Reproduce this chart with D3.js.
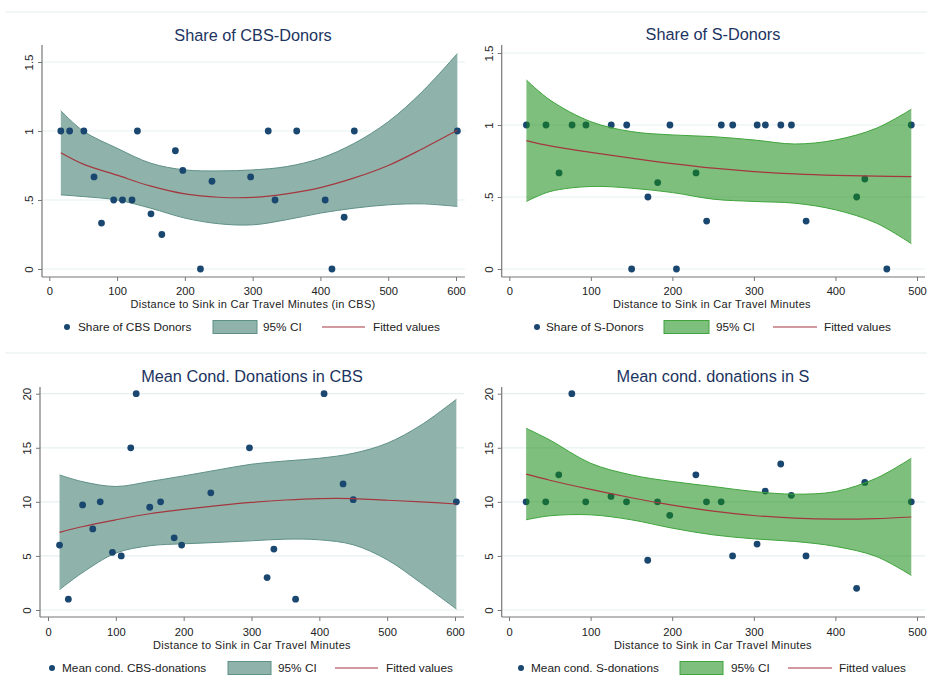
<!DOCTYPE html>
<html>
<head>
<meta charset="utf-8">
<script src="https://cdn.jsdelivr.net/npm/d3@7/dist/d3.min.js"></script>
<style>
  html, body { margin: 0; padding: 0; background: #fff; }
  svg { display: block; font-family: "Liberation Sans", Arial, sans-serif; }
</style>
</head>
<body>
<svg id="chart" width="927" height="684"></svg>
<script>
// ---------------- DATA ----------------
// CBS observations (distance in car travel minutes)
const cbsDistance = [17, 30, 51, 66, 77, 95, 108, 122, 130, 150, 166, 186, 197, 223, 240, 297, 323, 333, 365, 407, 417, 435, 450, 602];
const cbsShare    = [1, 1, 1, 0.667, 0.333, 0.5, 0.5, 0.5, 1, 0.4, 0.25, 0.857, 0.714, 0, 0.636, 0.667, 1, 0.5, 1, 0.5, 0, 0.375, 1, 1];
const cbsCondDon  = [6, 1, 9.72, 7.5, 10, 5.33, 5, 15, 20, 9.5, 10, 6.67, 6, null, 10.83, 15, 3, 5.63, 1, 20, null, 11.66, 10.2, 10];

// S observations
const sDistance = [21, 45, 61, 77, 94, 125, 144, 150, 170, 182, 197, 205, 229, 242, 260, 274, 304, 314, 333, 346, 364, 426, 436, 463, 493];
const sShare    = [1, 1, 0.667, 1, 1, 1, 1, 0, 0.5, 0.6, 1, 0, 0.667, 0.333, 1, 1, 1, 1, 1, 1, 0.333, 0.5, 0.625, 0, 1];
const sCondDon  = [10, 10, 12.5, 20, 10, 10.5, 10, null, 4.6, 10, 8.75, null, 12.5, 10, 10, 5, 6.1, 11, 13.5, 10.6, 5, 2, 11.8, null, 10];

// Fitted values and 95% CI
const cbsFitX        = [17, 50, 100, 150, 200, 250, 300, 350, 400, 450, 500, 550, 602];
const cbsShareFit    = [0.842, 0.76, 0.68, 0.60, 0.544, 0.52, 0.519, 0.545, 0.59, 0.66, 0.75, 0.87, 1.005];
const cbsShareHi     = [1.147, 1.0, 0.875, 0.766, 0.718, 0.711, 0.718, 0.742, 0.802, 0.911, 1.067, 1.284, 1.561];
const cbsShareLo     = [0.537, 0.525, 0.50, 0.44, 0.369, 0.328, 0.320, 0.357, 0.405, 0.441, 0.465, 0.472, 0.453];
const cbsDonFit      = [7.18, 7.7, 8.34, 8.9, 9.3, 9.65, 9.95, 10.17, 10.3, 10.3, 10.15, 10.0, 9.8];
const cbsDonHi       = [12.49, 11.88, 11.42, 11.88, 12.4, 12.95, 13.48, 13.78, 14.03, 14.49, 15.42, 17.1, 19.48];
const cbsDonLo       = [1.88, 3.42, 5.26, 5.94, 6.12, 6.25, 6.4, 6.55, 6.49, 6.03, 4.65, 2.49, 0.09];

const sFitX          = [21, 50, 100, 150, 200, 250, 300, 350, 400, 450, 493];
const sShareFit      = [0.892, 0.855, 0.81, 0.77, 0.732, 0.70, 0.676, 0.66, 0.65, 0.645, 0.641];
const sShareHi       = [1.312, 1.173, 1.023, 0.954, 0.931, 0.919, 0.896, 0.868, 0.896, 0.977, 1.109];
const sShareLo       = [0.469, 0.538, 0.573, 0.561, 0.531, 0.485, 0.469, 0.457, 0.411, 0.319, 0.176];
const sDonFit        = [12.56, 12.0, 11.15, 10.38, 9.7, 9.15, 8.74, 8.5, 8.4, 8.45, 8.6];
const sDonHi         = [16.8, 15.72, 13.57, 12.49, 11.88, 11.42, 10.95, 10.71, 10.95, 12.18, 14.03];
const sDonLo         = [8.34, 8.71, 8.8, 8.34, 7.57, 6.95, 6.58, 6.34, 5.88, 4.95, 3.2];

// Axis ticks
const xTicksCBS   = [0, 100, 200, 300, 400, 500, 600];
const xTicksS     = [0, 100, 200, 300, 400, 500];
const yTicksShare = [0, 0.5, 1, 1.5];
const yTickLabelsShare = ["0", ".5", "1", "1.5"];
const yTicksDon   = [0, 5, 10, 15, 20];
const yTickLabelsDon = ["0", "5", "10", "15", "20"];

// Texts
const panelTitles = ["Share of CBS-Donors", "Share of S-Donors", "Mean Cond. Donations in CBS", "Mean cond. donations in S"];
const xAxisTitles = ["Distance to Sink in Car Travel Minutes (in CBS)", "Distance to Sink in Car Travel Minutes",
                     "Distance to Sink in Car Travel Minutes", "Distance to Sink in Car Travel Minutes"];
const legendPointLabels = ["Share of CBS Donors", "Share of S-Donors", "Mean cond. CBS-donations", "Mean cond. S-donations"];
const legendCILabel = "95% CI";
const legendFitLabel = "Fitted values";

// ---------------- DRAWING ----------------
const svg = d3.select("#chart");
const NAVY = "#1a476f", MAROON = "#a5373f", TITLE = "#1c3461", TXT = "#222", AXIS = "#777", GRID = "#e6eff0";

// faint region borders
[12, 353].forEach(yy => svg.append("line").attr("x1", 5).attr("x2", 927).attr("y1", yy).attr("y2", yy)
  .attr("stroke", "#ecf3f3").attr("stroke-width", 1.5));

const panels = [
  { xDom: [0, 600], xRange: [49.3, 456], yDom: [0, 1.5], yRange: [269, 62], axX: 42, axTop: 45, axBot: 277, axRight: 465,
    xTicks: xTicksCBS, yTicks: yTicksShare, yLabels: yTickLabelsShare,
    px: cbsDistance, py: cbsShare, fx: cbsFitX, fy: cbsShareFit, hi: cbsShareHi, lo: cbsShareLo,
    bandFill: "#8fb3aa", bandOpacity: 1, bandStroke: "#5f9088", bandOver: false,
    title: panelTitles[0], titleX: 253, titleY: 35, xTitle: xAxisTitles[0], xTitleX: 253, tickLabY: 291, xTitleY: 304, legY: 327,
    leg: { dot: 67, txt: 78, sw0: 213, sw1: 257, ci: 263, l0: 322, l1: 365, fit: 373 } },
  { xDom: [0, 500], xRange: [509.3, 917], yDom: [0, 1.5], yRange: [269, 53], axX: 501.7, axTop: 45, axBot: 277, axRight: 925,
    xTicks: xTicksS, yTicks: yTicksShare, yLabels: yTickLabelsShare,
    px: sDistance, py: sShare, fx: sFitX, fy: sShareFit, hi: sShareHi, lo: sShareLo,
    bandFill: "#168a12", bandOpacity: 0.55, bandStroke: "#3fa43c", bandOver: true,
    title: panelTitles[1], titleX: 713, titleY: 34, xTitle: xAxisTitles[1], xTitleX: 712, tickLabY: 290.5, xTitleY: 303.5, legY: 327,
    leg: { dot: 537, txt: 546, sw0: 664, sw1: 709, ci: 716, l0: 773, l1: 817, fit: 824 } },
  { xDom: [0, 600], xRange: [48, 455], yDom: [0, 20], yRange: [610, 393.7], axX: 40, axTop: 387, axBot: 617, axRight: 464,
    xTicks: xTicksCBS, yTicks: yTicksDon, yLabels: yTickLabelsDon,
    px: cbsDistance, py: cbsCondDon, fx: cbsFitX, fy: cbsDonFit, hi: cbsDonHi, lo: cbsDonLo,
    bandFill: "#8fb3aa", bandOpacity: 1, bandStroke: "#5f9088", bandOver: false,
    title: panelTitles[2], titleX: 252, titleY: 376, xTitle: xAxisTitles[2], xTitleX: 252, tickLabY: 632, xTitleY: 645, legY: 668,
    leg: { dot: 52, txt: 62, sw0: 228, sw1: 271, ci: 278, l0: 335, l1: 378, fit: 386 } },
  { xDom: [0, 500], xRange: [509, 917], yDom: [0, 20], yRange: [610, 393.7], axX: 501.7, axTop: 387, axBot: 617, axRight: 925,
    xTicks: xTicksS, yTicks: yTicksDon, yLabels: yTickLabelsDon,
    px: sDistance, py: sCondDon, fx: sFitX, fy: sDonFit, hi: sDonHi, lo: sDonLo,
    bandFill: "#168a12", bandOpacity: 0.55, bandStroke: "#3fa43c", bandOver: true,
    title: panelTitles[3], titleX: 713, titleY: 376, xTitle: xAxisTitles[3], xTitleX: 713, tickLabY: 632, xTitleY: 645, legY: 668,
    leg: { dot: 521, txt: 531, sw0: 680, sw1: 723, ci: 731, l0: 788, l1: 832, fit: 839 } }
];

panels.forEach((p, i) => {
  const g = svg.append("g");
  const x = d3.scaleLinear().domain(p.xDom).range(p.xRange);
  const y = d3.scaleLinear().domain(p.yDom).range(p.yRange);

  // gridlines
  g.append("g").selectAll("line").data(p.yTicks).join("line")
    .attr("x1", p.axX).attr("x2", p.axRight).attr("y1", d => y(d)).attr("y2", d => y(d))
    .attr("stroke", GRID).attr("stroke-width", 1.2);

  // band
  const fitData = p.fx.map((v, k) => ({ x: v, f: p.fy[k], hi: p.hi[k], lo: p.lo[k] }));
  const area = d3.area().x(d => x(d.x)).y0(d => y(d.lo)).y1(d => y(d.hi)).curve(d3.curveCatmullRom);
  const lineHi = d3.line().x(d => x(d.x)).y(d => y(d.hi)).curve(d3.curveCatmullRom);
  const lineLo = d3.line().x(d => x(d.x)).y(d => y(d.lo)).curve(d3.curveCatmullRom);
  const fitLine = d3.line().x(d => x(d.x)).y(d => y(d.f)).curve(d3.curveCatmullRom);

  const pts = p.px.map((v, k) => ({ x: v, y: p.py[k] })).filter(d => d.y !== null);

  const drawBand = () => {
    g.append("path").datum(fitData).attr("d", area)
      .attr("fill", p.bandFill).attr("fill-opacity", p.bandOpacity).attr("stroke", "none");
    g.append("path").datum(fitData).attr("d", lineHi).attr("fill", "none").attr("stroke", p.bandStroke).attr("stroke-width", 1);
    g.append("path").datum(fitData).attr("d", lineLo).attr("fill", "none").attr("stroke", p.bandStroke).attr("stroke-width", 1);
  };
  const drawPoints = () => {
    g.append("g").selectAll("circle").data(pts).join("circle")
      .attr("cx", d => x(d.x)).attr("cy", d => y(d.y)).attr("r", 3.4).attr("fill", NAVY);
  };
  if (p.bandOver) { drawPoints(); drawBand(); } else { drawBand(); drawPoints(); }

  g.append("path").datum(fitData).attr("d", fitLine).attr("fill", "none").attr("stroke", MAROON).attr("stroke-width", 1.2);

  // axes
  const xAxis = d3.axisBottom(x).tickValues(p.xTicks).tickSize(4).tickPadding(4).tickFormat(d3.format("d"));
  const xg = g.append("g").attr("transform", `translate(0,${p.axBot})`).call(xAxis);
  xg.select(".domain").remove();
  xg.selectAll(".tick line").attr("stroke", AXIS);
  xg.selectAll(".tick text").attr("font-size", 11.2).attr("fill", TXT).attr("font-family", "Liberation Sans, Arial, sans-serif")
    .attr("y", null).attr("dy", null).attr("dominant-baseline", "central")
    .attr("transform", `translate(0,${p.tickLabY - p.axBot})`);
  g.append("line").attr("x1", p.axX).attr("x2", p.axRight).attr("y1", p.axBot).attr("y2", p.axBot)
    .attr("stroke", AXIS).attr("stroke-width", 1.2);

  const yAxis = d3.axisLeft(y).tickValues(p.yTicks).tickSize(4).tickFormat((d, k) => p.yLabels[k]);
  const yg = g.append("g").attr("transform", `translate(${p.axX},0)`).call(yAxis);
  yg.select(".domain").remove();
  yg.selectAll(".tick line").attr("stroke", AXIS);
  yg.selectAll(".tick text").attr("font-size", 11.5).attr("fill", TXT).attr("font-family", "Liberation Sans, Arial, sans-serif")
    .attr("x", 0).attr("dy", null).attr("text-anchor", "middle")
    .attr("transform", "translate(-9,0) rotate(-90)");
  g.append("line").attr("x1", p.axX).attr("x2", p.axX).attr("y1", p.axTop).attr("y2", p.axBot)
    .attr("stroke", AXIS).attr("stroke-width", 1.2);

  // titles
  g.append("text").attr("x", p.titleX).attr("y", p.titleY).attr("text-anchor", "middle").attr("dominant-baseline", "central")
    .attr("font-size", 16.3).attr("fill", TITLE).text(p.title);
  g.append("text").attr("x", p.xTitleX).attr("y", p.xTitleY).attr("text-anchor", "middle").attr("dominant-baseline", "central")
    .attr("font-size", 11).attr("letter-spacing", "0.3px").attr("fill", TXT).text(p.xTitle);

  // legend
  const L = p.leg, ly = p.legY;
  g.append("circle").attr("cx", L.dot).attr("cy", ly).attr("r", 3).attr("fill", NAVY);
  g.append("text").attr("x", L.txt).attr("y", ly).attr("dominant-baseline", "central").attr("font-size", 11.8).attr("fill", TXT)
    .text(legendPointLabels[i]);
  g.append("rect").attr("x", L.sw0).attr("y", ly - 6.5).attr("width", L.sw1 - L.sw0).attr("height", 13)
    .attr("fill", p.bandFill).attr("fill-opacity", p.bandOpacity).attr("stroke", p.bandStroke).attr("stroke-width", 1);
  g.append("text").attr("x", L.ci).attr("y", ly).attr("dominant-baseline", "central").attr("font-size", 11.8).attr("fill", TXT)
    .text(legendCILabel);
  g.append("line").attr("x1", L.l0).attr("x2", L.l1).attr("y1", ly).attr("y2", ly).attr("stroke", MAROON).attr("stroke-width", 1.2);
  g.append("text").attr("x", L.fit).attr("y", ly).attr("dominant-baseline", "central").attr("font-size", 11.8).attr("fill", TXT)
    .text(legendFitLabel);
});
</script>
</body>
</html>
